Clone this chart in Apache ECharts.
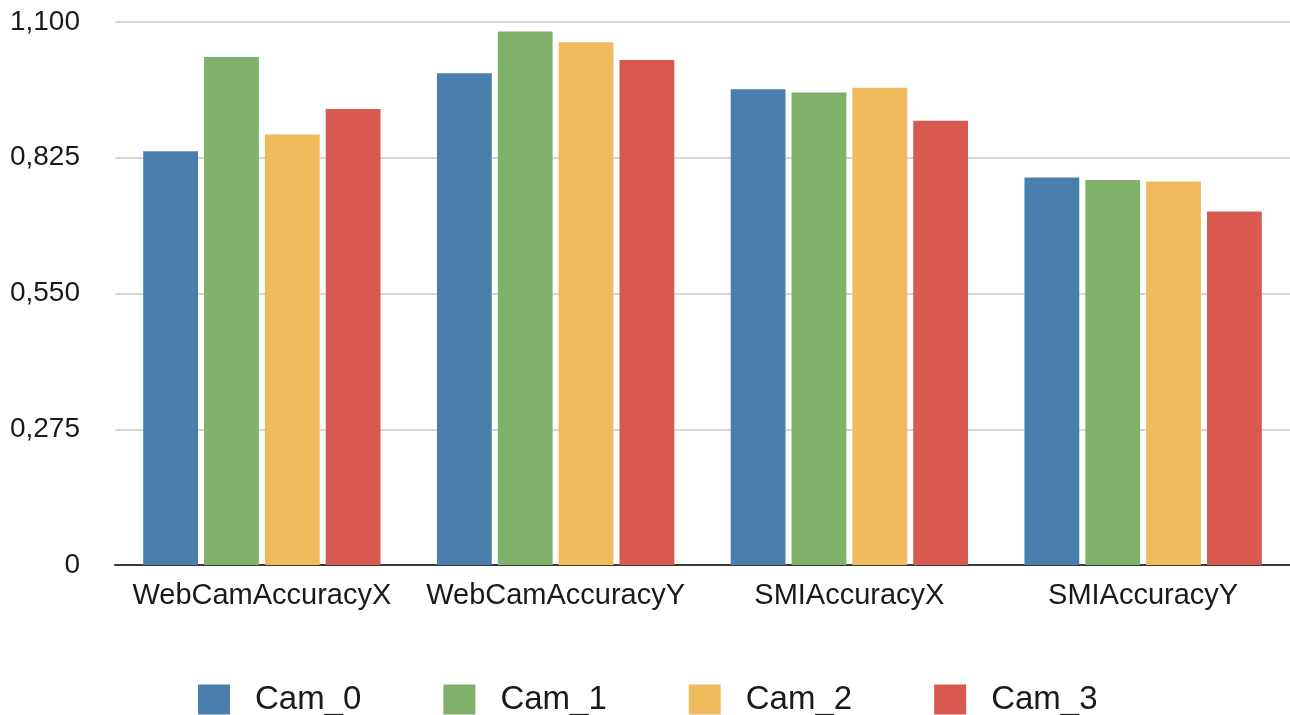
<!DOCTYPE html>
<html>
<head>
<meta charset="utf-8">
<script src="https://cdn.jsdelivr.net/npm/echarts@6/dist/echarts.min.js"></script>
<style>
html,body{margin:0;padding:0;background:#fff;}
#main{width:1290px;height:715px;}
</style>
</head>
<body>
<div id="main"></div>
<script>
const categories = ["WebCamAccuracyX", "WebCamAccuracyY", "SMIAccuracyX", "SMIAccuracyY"];
const seriesNames = ["Cam_0", "Cam_1", "Cam_2", "Cam_3"];
const cam0 = [0.838, 0.996, 0.964, 0.785];
const cam1 = [1.029, 1.081, 0.957, 0.780];
const cam2 = [0.872, 1.059, 0.967, 0.777];
const cam3 = [0.924, 1.023, 0.900, 0.716];
const yTickLabels = ["0", "0,275", "0,550", "0,825", "1,100"];
const colors = ["#4a7fad", "#80b16b", "#f0bb5c", "#d8594f"];

const values = [cam0, cam1, cam2, cam3];
const yMin = 0, yMax = 1.1, yStep = 0.275;
const font = "'Liberation Sans', Arial, Helvetica, sans-serif";

const chart = echarts.init(document.getElementById('main'), null, {renderer: 'canvas'});
chart.setOption({
  animation: false,
  backgroundColor: '#ffffff',
  color: colors,
  grid: {left: 115, right: 0, top: 22, bottom: 150, containLabel: false},
  legend: {
    data: seriesNames,
    left: 198,
    top: 683,
    padding: 0,
    itemWidth: 32,
    itemHeight: 30,
    itemGap: 82,
    icon: 'rect',
    textStyle: {fontFamily: font, fontSize: 33, color: '#1a1a1a', padding: [0, 0, 0, 20]}
  },
  xAxis: {
    type: 'category',
    data: categories,
    axisLine: {show: true, lineStyle: {color: '#3a3a3a', width: 2}},
    axisTick: {show: false},
    axisLabel: {fontFamily: font, fontSize: 29, color: '#1a1a1a', margin: 16, interval: 0}
  },
  yAxis: {
    type: 'value',
    min: yMin, max: yMax, interval: yStep,
    axisLine: {show: false},
    axisTick: {show: false},
    splitLine: {show: true, lineStyle: {color: '#d6d6d6', width: 2}},
    axisLabel: {
      fontFamily: font, fontSize: 28, color: '#1a1a1a', margin: 35,
      formatter: function (v) {
        const i = Math.round((v - yMin) / yStep);
        return yTickLabels[i] !== undefined ? yTickLabels[i] : '';
      }
    }
  },
  series: seriesNames.map((name, i) => ({
    name: name,
    type: 'bar',
    data: values[i],
    barGap: '11%',
    barCategoryGap: '19.2%',
    itemStyle: {color: colors[i]}
  }))
});
</script>
</body>
</html>
